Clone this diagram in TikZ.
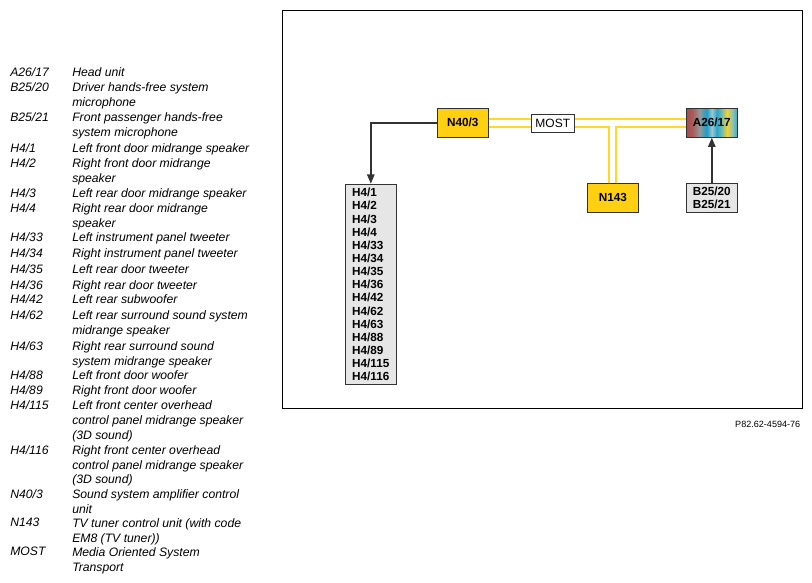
\documentclass[tikz,border=0pt]{standalone}
\usepackage{fontspec}
\setmainfont{Liberation Sans}
\usetikzlibrary{calc,arrows.meta}
\definecolor{boxyellow}{RGB}{255,208,18}
\definecolor{linkyellow}{RGB}{255,217,40}
\definecolor{boxgray}{RGB}{230,230,230}
\definecolor{edgegray}{RGB}{50,50,50}
\pgfdeclarehorizontalshading{headunit}{100bp}{
 rgb(0bp)=(0.66,0.3,0.3);
 rgb(25bp)=(0.66,0.3,0.3);
 rgb(31bp)=(0.66,0.36,0.36);
 rgb(38bp)=(0.58,0.6,0.6);
 rgb(45bp)=(0.1,0.62,0.8);
 rgb(50bp)=(0.62,0.78,0.8);
 rgb(55bp)=(0.15,0.65,0.82);
 rgb(61bp)=(0.55,0.76,0.6);
 rgb(65bp)=(0.98,0.82,0.12);
 rgb(70bp)=(0.55,0.78,0.72);
 rgb(75bp)=(0.3,0.65,0.72);
 rgb(100bp)=(0.3,0.65,0.72)}
\tikzset{
 x=0.75pt,y=-0.75pt,
 unit/.style={draw=edgegray,line width=0.75pt,minimum width=38pt,minimum height=21.5pt,inner sep=0pt,font=\fontsize{8.8pt}{10.4pt}\selectfont\bfseries,align=center},
 yellowbox/.style={unit,fill=boxyellow},
 graybox/.style={unit,fill=boxgray},
 link/.style={linkyellow,line width=1.5pt},
 signal/.style={draw=edgegray,line width=1.3pt,-{Triangle[length=7pt,width=5.5pt]}},
 legkey/.style={anchor=north west,inner sep=0pt,font=\fontsize{9.15pt}{11.1pt}\selectfont\itshape},
 legtext/.style={anchor=north west,inner sep=0pt,font=\fontsize{9.15pt}{11.1pt}\selectfont\itshape,align=left},
}
\newcommand{\legentry}[4]{%
 \node[legkey] (k#1) at (10,#2+1.7) {#3};
 \node[legtext] (t#1) at (72,#2+1.7) {#4};}
\begin{document}
\begin{tikzpicture}
\useasboundingbox (0,0) rectangle (812,582);
\node[draw=black,line width=0.75pt,minimum width=390pt,minimum height=298.5pt,inner sep=0pt] (frame) at (542,209) {};

\node[yellowbox] (n40) at (462.8,122.8) {N40/3};
\node[draw=edgegray,line width=0.75pt,fill=white,minimum width=32pt,minimum height=13.2pt,inner sep=0pt,font=\fontsize{9pt}{11pt}\selectfont] (most) at (552.8,123.2) {MOST};
\node[unit,shading=headunit,shading angle=0] (a26) at (711.8,122.8) {A26/17};
\node[yellowbox] (n143) at (612.8,197.8) {N143};
\node[graybox] (b25) at (711.8,197.8) {B25/20\\B25/21};
\node[graybox,minimum height=150.5pt,align=left,font=\fontsize{8.8pt}{9.86pt}\selectfont\bfseries] (h4) at (370.8,284.6) {H4/1\\H4/2\\H4/3\\H4/4\\H4/33\\H4/34\\H4/35\\H4/36\\H4/42\\H4/62\\H4/63\\H4/88\\H4/89\\H4/115\\H4/116};

\draw[link] ($(n40.east)+(0,-3.6)$) -- ($(most.west |- n40.east)+(0,-3.6)$);
\draw[link] ($(n40.east)+(0,4.4)$) -- ($(most.west |- n40.east)+(0,4.4)$);
\draw[link] ($(most.east |- a26.west)+(0,-3.6)$) -- ($(a26.west)+(0,-3.6)$);
\coordinate (t1) at ($(n143.north)+(-3.5,0)$);
\coordinate (t2) at ($(n143.north)+(3.5,0)$);
\draw[link] ($(most.east |- a26.west)+(0,4.4)$) -| (t1);
\draw[link] ($(a26.west)+(0,4.4)$) -| (t2);

\draw[signal] (n40.west) -| (h4.north);
\draw[signal] (b25.north) -- (a26.south);

\node[anchor=east,inner sep=0pt,font=\fontsize{6.8pt}{8pt}\selectfont] (ref) at (800.5,424.5) {P82.62-4594-76};

\legentry{a}{66}{A26/17}{Head unit}
\legentry{b}{81}{B25/20}{Driver hands-free system\\microphone}
\legentry{c}{110.5}{B25/21}{Front passenger hands-free\\system microphone}
\legentry{d}{141.5}{H4/1}{Left front door midrange speaker}
\legentry{e}{157}{H4/2}{Right front door midrange\\speaker}
\legentry{f}{186.5}{H4/3}{Left rear door midrange speaker}
\legentry{g}{201.5}{H4/4}{Right rear door midrange\\speaker}
\legentry{h}{231}{H4/33}{Left instrument panel tweeter}
\legentry{i}{246.5}{H4/34}{Right instrument panel tweeter}
\legentry{j}{263}{H4/35}{Left rear door tweeter}
\legentry{k}{278.5}{H4/36}{Right rear door tweeter}
\legentry{l}{293}{H4/42}{Left rear subwoofer}
\legentry{m}{308.5}{H4/62}{Left rear surround sound system\\midrange speaker}
\legentry{n}{339.5}{H4/63}{Right rear surround sound\\system midrange speaker}
\legentry{o}{368.5}{H4/88}{Left front door woofer}
\legentry{p}{383.5}{H4/89}{Right front door woofer}
\legentry{q}{399}{H4/115}{Left front center overhead\\control panel midrange speaker\\(3D sound)}
\legentry{r}{443.5}{H4/116}{Right front center overhead\\control panel midrange speaker\\(3D sound)}
\legentry{s}{487.5}{N40/3}{Sound system amplifier control\\unit}
\legentry{t}{516.5}{N143}{TV tuner control unit (with code\\EM8 (TV tuner))}
\legentry{u}{545.5}{MOST}{Media Oriented System\\Transport}
\end{tikzpicture}
\end{document}
